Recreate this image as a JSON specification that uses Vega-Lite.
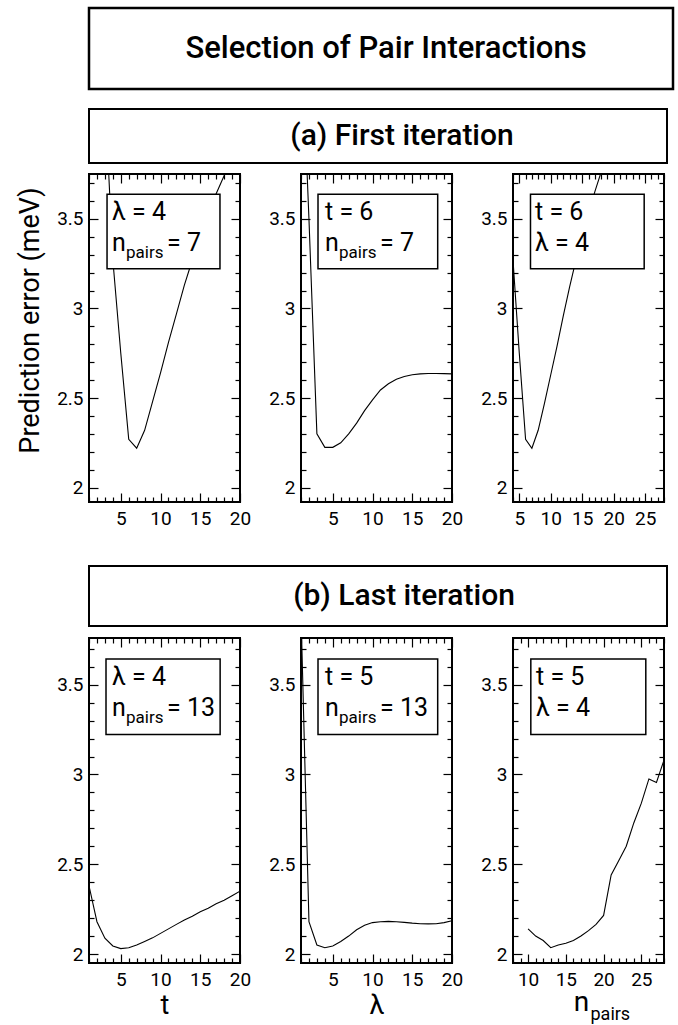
{
  "$schema": "https://vega.github.io/schema/vega-lite/v6.json",
  "background": "white",
  "padding": {"left": 15, "top": 6, "right": 0, "bottom": 0},
  "config": {
    "font": "Roboto",
    "view": {"stroke": "black", "strokeWidth": 2},
    "axis": {"domain": false, "grid": false, "tickColor": "black", "tickWidth": 1.2, "labelColor": "black", "labelFont": "Roboto", "labelFontSize": 19, "labelFlush": false, "labelOverlap": false, "titleColor": "black", "titleFont": "Roboto", "titleFontWeight": "normal", "titleFontSize": 27},
    "text": {"font": "Roboto", "color": "black"}
  },
  "spacing": 32,
  "vconcat": [
    {
      "spacing": 17,
      "vconcat": [
        {
          "width": 584, "height": 81,
          "view": {"stroke": "black", "strokeWidth": 2.5},
          "data": {"values": [{"label": "Selection of Pair Interactions"}]},
          "mark": {"type": "text", "fontSize": 31, "fontWeight": 500, "dx": 5, "baseline": "middle"},
          "encoding": {"text": {"field": "label"}}
        },
        {
          "spacing": 8,
          "vconcat": [
            {
              "width": 578, "height": 54,
              "view": {"stroke": "black", "strokeWidth": 2},
              "data": {"values": [{"label": "(a) First iteration"}]},
              "mark": {"type": "text", "fontSize": 30, "fontWeight": 500, "dx": 24, "baseline": "middle"},
              "encoding": {"text": {"field": "label"}}
            },
            {
              "spacing": 15,
              "hconcat": [
                {
                  "width": 151, "height": 328,
                  "layer": [
                    {
                      "data": {"values": [{"t":3,"err":4.2},{"t":4,"err":3.27},{"t":5,"err":2.75},{"t":6,"err":2.27},{"t":7,"err":2.22},{"t":8,"err":2.32},{"t":9,"err":2.48},{"t":10,"err":2.64},{"t":11,"err":2.81},{"t":12,"err":2.97},{"t":13,"err":3.13},{"t":14,"err":3.27},{"t":15,"err":3.4},{"t":16,"err":3.52},{"t":17,"err":3.64},{"t":18,"err":3.74},{"t":19,"err":3.84},{"t":20,"err":3.93}]},
                      "mark": {"type": "line", "clip": true, "color": "black", "strokeWidth": 1.1},
                      "encoding": {
                        "x": {"field": "t", "type": "quantitative", "scale": {"domain": [1, 20], "nice": false, "zero": false},
                          "axis": {"orient": "bottom", "values": [1,2,3,4,5,6,7,8,9,10,11,12,13,14,15,16,17,18,19,20], "tickSize": {"condition": {"test": "datum.value % 5 === 0", "value": -9}, "value": -5}, "labelExpr": "datum.value % 5 === 0 ? datum.label : ''", "labelPadding": 16, "title": null}},
                        "y": {"field": "err", "type": "quantitative", "scale": {"domain": [1.92, 3.75], "nice": false, "zero": false},
                          "axis": {"orient": "left", "values": [2,2.1,2.2,2.3,2.4,2.5,2.6,2.7,2.8,2.9,3,3.1,3.2,3.3,3.4,3.5,3.6,3.7], "format": ".1~f", "tickSize": {"condition": {"test": "abs(datum.value * 2 - round(datum.value * 2)) < 0.001", "value": -9}, "value": -5}, "labelExpr": "abs(datum.value * 2 - round(datum.value * 2)) < 0.001 ? datum.label : ''", "labelPadding": 15, "title": "Prediction error (meV)", "titlePadding": 12, "titleY": 146}}
                      }
                    },
                    {
                      "data": {"values": [{"box": "legend"}]},
                      "mark": {"type": "rect", "fill": "white", "stroke": "black", "strokeWidth": 1.5},
                      "encoding": {
                        "x": {"datum": 3.27, "axis": {"orient": "top", "values": [1,2,3,4,5,6,7,8,9,10,11,12,13,14,15,16,17,18,19,20], "labels": false, "tickSize": {"condition": {"test": "datum.value % 5 === 0", "value": -9}, "value": -5}, "title": null}},
                        "x2": {"datum": 17.48},
                        "y": {"datum": 3.637, "axis": {"orient": "right", "values": [2,2.1,2.2,2.3,2.4,2.5,2.6,2.7,2.8,2.9,3,3.1,3.2,3.3,3.4,3.5,3.6,3.7], "labels": false, "tickSize": {"condition": {"test": "abs(datum.value * 2 - round(datum.value * 2)) < 0.001", "value": -9}, "value": -5}, "title": null}},
                        "y2": {"datum": 3.221}
                      }
                    },
                    {"data": {"values": [{"label": "λ = 4"}]}, "mark": {"type": "text", "align": "left", "baseline": "alphabetic", "fontSize": 25}, "encoding": {"x": {"datum": 3.89, "axis": null}, "y": {"datum": 3.493, "axis": null}, "text": {"field": "label"}}},
                    {"data": {"values": [{"label": "n"}]}, "mark": {"type": "text", "align": "left", "baseline": "alphabetic", "fontSize": 25}, "encoding": {"x": {"datum": 3.89, "axis": null}, "y": {"datum": 3.32, "axis": null}, "text": {"field": "label"}}},
                    {"data": {"values": [{"label": "pairs"}]}, "mark": {"type": "text", "align": "left", "baseline": "alphabetic", "fontSize": 17, "dx": 14}, "encoding": {"x": {"datum": 3.89, "axis": null}, "y": {"datum": 3.281, "axis": null}, "text": {"field": "label"}}},
                    {"data": {"values": [{"label": "= 7"}]}, "mark": {"type": "text", "align": "left", "baseline": "alphabetic", "fontSize": 25, "dx": 55}, "encoding": {"x": {"datum": 3.89, "axis": null}, "y": {"datum": 3.32, "axis": null}, "text": {"field": "label"}}}
                  ],
                  "resolve": {"axis": {"x": "independent", "y": "independent"}}
                },
                {
                  "width": 151, "height": 328,
                  "layer": [
                    {
                      "data": {"values": [{"lambda":1,"err":4.6},{"lambda":2,"err":3.5},{"lambda":3,"err":2.3},{"lambda":4,"err":2.225},{"lambda":5,"err":2.225},{"lambda":6,"err":2.25},{"lambda":7,"err":2.3},{"lambda":8,"err":2.36},{"lambda":9,"err":2.43},{"lambda":10,"err":2.49},{"lambda":11,"err":2.545},{"lambda":12,"err":2.58},{"lambda":13,"err":2.605},{"lambda":14,"err":2.62},{"lambda":15,"err":2.63},{"lambda":16,"err":2.635},{"lambda":17,"err":2.637},{"lambda":18,"err":2.637},{"lambda":19,"err":2.636},{"lambda":20,"err":2.635}]},
                      "mark": {"type": "line", "clip": true, "color": "black", "strokeWidth": 1.1},
                      "encoding": {
                        "x": {"field": "lambda", "type": "quantitative", "scale": {"domain": [1, 20], "nice": false, "zero": false},
                          "axis": {"orient": "bottom", "values": [1,2,3,4,5,6,7,8,9,10,11,12,13,14,15,16,17,18,19,20], "tickSize": {"condition": {"test": "datum.value % 5 === 0", "value": -9}, "value": -5}, "labelExpr": "datum.value % 5 === 0 ? datum.label : ''", "labelPadding": 16, "title": null}},
                        "y": {"field": "err", "type": "quantitative", "scale": {"domain": [1.92, 3.75], "nice": false, "zero": false},
                          "axis": {"orient": "left", "values": [2,2.1,2.2,2.3,2.4,2.5,2.6,2.7,2.8,2.9,3,3.1,3.2,3.3,3.4,3.5,3.6,3.7], "format": ".1~f", "tickSize": {"condition": {"test": "abs(datum.value * 2 - round(datum.value * 2)) < 0.001", "value": -9}, "value": -5}, "labelExpr": "abs(datum.value * 2 - round(datum.value * 2)) < 0.001 ? datum.label : ''", "labelPadding": 15, "title": null}}
                      }
                    },
                    {
                      "data": {"values": [{"box": "legend"}]},
                      "mark": {"type": "rect", "fill": "white", "stroke": "black", "strokeWidth": 1.5},
                      "encoding": {
                        "x": {"datum": 3.14, "axis": {"orient": "top", "values": [1,2,3,4,5,6,7,8,9,10,11,12,13,14,15,16,17,18,19,20], "labels": false, "tickSize": {"condition": {"test": "datum.value % 5 === 0", "value": -9}, "value": -5}, "title": null}},
                        "x2": {"datum": 18.2},
                        "y": {"datum": 3.637, "axis": {"orient": "right", "values": [2,2.1,2.2,2.3,2.4,2.5,2.6,2.7,2.8,2.9,3,3.1,3.2,3.3,3.4,3.5,3.6,3.7], "labels": false, "tickSize": {"condition": {"test": "abs(datum.value * 2 - round(datum.value * 2)) < 0.001", "value": -9}, "value": -5}, "title": null}},
                        "y2": {"datum": 3.221}
                      }
                    },
                    {"data": {"values": [{"label": "t = 6"}]}, "mark": {"type": "text", "align": "left", "baseline": "alphabetic", "fontSize": 25}, "encoding": {"x": {"datum": 4.02, "axis": null}, "y": {"datum": 3.493, "axis": null}, "text": {"field": "label"}}},
                    {"data": {"values": [{"label": "n"}]}, "mark": {"type": "text", "align": "left", "baseline": "alphabetic", "fontSize": 25}, "encoding": {"x": {"datum": 4.02, "axis": null}, "y": {"datum": 3.32, "axis": null}, "text": {"field": "label"}}},
                    {"data": {"values": [{"label": "pairs"}]}, "mark": {"type": "text", "align": "left", "baseline": "alphabetic", "fontSize": 17, "dx": 14}, "encoding": {"x": {"datum": 4.02, "axis": null}, "y": {"datum": 3.281, "axis": null}, "text": {"field": "label"}}},
                    {"data": {"values": [{"label": "= 7"}]}, "mark": {"type": "text", "align": "left", "baseline": "alphabetic", "fontSize": 25, "dx": 55}, "encoding": {"x": {"datum": 4.02, "axis": null}, "y": {"datum": 3.32, "axis": null}, "text": {"field": "label"}}}
                  ],
                  "resolve": {"axis": {"x": "independent", "y": "independent"}}
                },
                {
                  "width": 151, "height": 328,
                  "layer": [
                    {
                      "data": {"values": [{"npairs":4,"err":3.27},{"npairs":5,"err":2.75},{"npairs":6,"err":2.27},{"npairs":7,"err":2.22},{"npairs":8,"err":2.32},{"npairs":9,"err":2.47},{"npairs":10,"err":2.63},{"npairs":11,"err":2.79},{"npairs":12,"err":2.96},{"npairs":13,"err":3.12},{"npairs":14,"err":3.27},{"npairs":15,"err":3.4},{"npairs":16,"err":3.53},{"npairs":17,"err":3.65},{"npairs":18,"err":3.76},{"npairs":19,"err":3.86}]},
                      "mark": {"type": "line", "clip": true, "color": "black", "strokeWidth": 1.1},
                      "encoding": {
                        "x": {"field": "npairs", "type": "quantitative", "scale": {"domain": [4, 28], "nice": false, "zero": false},
                          "axis": {"orient": "bottom", "values": [4,5,6,7,8,9,10,11,12,13,14,15,16,17,18,19,20,21,22,23,24,25,26,27,28], "tickSize": {"condition": {"test": "datum.value % 5 === 0", "value": -9}, "value": -5}, "labelExpr": "datum.value % 5 === 0 ? datum.label : ''", "labelPadding": 16, "title": null}},
                        "y": {"field": "err", "type": "quantitative", "scale": {"domain": [1.92, 3.75], "nice": false, "zero": false},
                          "axis": {"orient": "left", "values": [2,2.1,2.2,2.3,2.4,2.5,2.6,2.7,2.8,2.9,3,3.1,3.2,3.3,3.4,3.5,3.6,3.7], "format": ".1~f", "tickSize": {"condition": {"test": "abs(datum.value * 2 - round(datum.value * 2)) < 0.001", "value": -9}, "value": -5}, "labelExpr": "abs(datum.value * 2 - round(datum.value * 2)) < 0.001 ? datum.label : ''", "labelPadding": 15, "title": null}}
                      }
                    },
                    {
                      "data": {"values": [{"box": "legend"}]},
                      "mark": {"type": "rect", "fill": "white", "stroke": "black", "strokeWidth": 1.5},
                      "encoding": {
                        "x": {"datum": 6.78, "axis": {"orient": "top", "values": [4,5,6,7,8,9,10,11,12,13,14,15,16,17,18,19,20,21,22,23,24,25,26,27,28], "labels": false, "tickSize": {"condition": {"test": "datum.value % 5 === 0", "value": -9}, "value": -5}, "title": null}},
                        "x2": {"datum": 24.85},
                        "y": {"datum": 3.637, "axis": {"orient": "right", "values": [2,2.1,2.2,2.3,2.4,2.5,2.6,2.7,2.8,2.9,3,3.1,3.2,3.3,3.4,3.5,3.6,3.7], "labels": false, "tickSize": {"condition": {"test": "abs(datum.value * 2 - round(datum.value * 2)) < 0.001", "value": -9}, "value": -5}, "title": null}},
                        "y2": {"datum": 3.221}
                      }
                    },
                    {"data": {"values": [{"label": "t = 6"}]}, "mark": {"type": "text", "align": "left", "baseline": "alphabetic", "fontSize": 25}, "encoding": {"x": {"datum": 7.5, "axis": null}, "y": {"datum": 3.493, "axis": null}, "text": {"field": "label"}}},
                    {"data": {"values": [{"label": "λ = 4"}]}, "mark": {"type": "text", "align": "left", "baseline": "alphabetic", "fontSize": 25}, "encoding": {"x": {"datum": 7.5, "axis": null}, "y": {"datum": 3.32, "axis": null}, "text": {"field": "label"}}}
                  ],
                  "resolve": {"axis": {"x": "independent", "y": "independent"}}
                }
              ]
            }
          ]
        }
      ]
    },
    {
      "spacing": 9,
      "vconcat": [
        {
          "width": 578, "height": 60,
          "view": {"stroke": "black", "strokeWidth": 2},
          "data": {"values": [{"label": "(b) Last iteration"}]},
          "mark": {"type": "text", "fontSize": 30, "fontWeight": 500, "dx": 26, "baseline": "middle"},
          "encoding": {"text": {"field": "label"}}
        },
        {
          "spacing": 15,
          "hconcat": [
            {
              "width": 151, "height": 325,
              "layer": [
                {
                  "data": {"values": [{"t":1,"err":2.38},{"t":2,"err":2.18},{"t":3,"err":2.088},{"t":4,"err":2.045},{"t":5,"err":2.03},{"t":6,"err":2.035},{"t":7,"err":2.05},{"t":8,"err":2.07},{"t":9,"err":2.09},{"t":10,"err":2.115},{"t":11,"err":2.14},{"t":12,"err":2.165},{"t":13,"err":2.19},{"t":14,"err":2.21},{"t":15,"err":2.235},{"t":16,"err":2.255},{"t":17,"err":2.28},{"t":18,"err":2.3},{"t":19,"err":2.325},{"t":20,"err":2.35}]},
                  "mark": {"type": "line", "clip": true, "color": "black", "strokeWidth": 1.1},
                  "encoding": {
                    "x": {"field": "t", "type": "quantitative", "scale": {"domain": [1, 20], "nice": false, "zero": false},
                      "axis": {"orient": "bottom", "values": [1,2,3,4,5,6,7,8,9,10,11,12,13,14,15,16,17,18,19,20], "tickSize": {"condition": {"test": "datum.value % 5 === 0", "value": -9}, "value": -5}, "labelExpr": "datum.value % 5 === 0 ? datum.label : ''", "labelPadding": 16, "title": "t", "titleFontSize": 27, "titlePadding": -1}},
                    "y": {"field": "err", "type": "quantitative", "scale": {"domain": [1.95, 3.76], "nice": false, "zero": false},
                      "axis": {"orient": "left", "values": [2,2.1,2.2,2.3,2.4,2.5,2.6,2.7,2.8,2.9,3,3.1,3.2,3.3,3.4,3.5,3.6,3.7], "format": ".1~f", "tickSize": {"condition": {"test": "abs(datum.value * 2 - round(datum.value * 2)) < 0.001", "value": -9}, "value": -5}, "labelExpr": "abs(datum.value * 2 - round(datum.value * 2)) < 0.001 ? datum.label : ''", "labelPadding": 15, "title": null}}
                  }
                },
                {
                  "data": {"values": [{"box": "legend"}]},
                  "mark": {"type": "rect", "fill": "white", "stroke": "black", "strokeWidth": 1.5},
                  "encoding": {
                    "x": {"datum": 3.14, "axis": {"orient": "top", "values": [1,2,3,4,5,6,7,8,9,10,11,12,13,14,15,16,17,18,19,20], "labels": false, "tickSize": {"condition": {"test": "datum.value % 5 === 0", "value": -9}, "value": -5}, "title": null}},
                    "x2": {"datum": 17.5},
                    "y": {"datum": 3.643, "axis": {"orient": "right", "values": [2,2.1,2.2,2.3,2.4,2.5,2.6,2.7,2.8,2.9,3,3.1,3.2,3.3,3.4,3.5,3.6,3.7], "labels": false, "tickSize": {"condition": {"test": "abs(datum.value * 2 - round(datum.value * 2)) < 0.001", "value": -9}, "value": -5}, "title": null}},
                    "y2": {"datum": 3.223}
                  }
                },
                {"data": {"values": [{"label": "λ = 4"}]}, "mark": {"type": "text", "align": "left", "baseline": "alphabetic", "fontSize": 25}, "encoding": {"x": {"datum": 3.89, "axis": null}, "y": {"datum": 3.498, "axis": null}, "text": {"field": "label"}}},
                {"data": {"values": [{"label": "n"}]}, "mark": {"type": "text", "align": "left", "baseline": "alphabetic", "fontSize": 25}, "encoding": {"x": {"datum": 3.89, "axis": null}, "y": {"datum": 3.326, "axis": null}, "text": {"field": "label"}}},
                {"data": {"values": [{"label": "pairs"}]}, "mark": {"type": "text", "align": "left", "baseline": "alphabetic", "fontSize": 17, "dx": 14}, "encoding": {"x": {"datum": 3.89, "axis": null}, "y": {"datum": 3.287, "axis": null}, "text": {"field": "label"}}},
                {"data": {"values": [{"label": "= 13"}]}, "mark": {"type": "text", "align": "left", "baseline": "alphabetic", "fontSize": 25, "dx": 55}, "encoding": {"x": {"datum": 3.89, "axis": null}, "y": {"datum": 3.326, "axis": null}, "text": {"field": "label"}}}
              ],
              "resolve": {"axis": {"x": "independent", "y": "independent"}}
            },
            {
              "width": 151, "height": 325,
              "layer": [
                {
                  "data": {"values": [{"lambda":1,"err":3.9},{"lambda":2,"err":2.18},{"lambda":3,"err":2.05},{"lambda":4,"err":2.035},{"lambda":5,"err":2.045},{"lambda":6,"err":2.07},{"lambda":7,"err":2.1},{"lambda":8,"err":2.135},{"lambda":9,"err":2.16},{"lambda":10,"err":2.175},{"lambda":11,"err":2.18},{"lambda":12,"err":2.182},{"lambda":13,"err":2.18},{"lambda":14,"err":2.176},{"lambda":15,"err":2.172},{"lambda":16,"err":2.169},{"lambda":17,"err":2.168},{"lambda":18,"err":2.169},{"lambda":19,"err":2.175},{"lambda":20,"err":2.185}]},
                  "mark": {"type": "line", "clip": true, "color": "black", "strokeWidth": 1.1},
                  "encoding": {
                    "x": {"field": "lambda", "type": "quantitative", "scale": {"domain": [1, 20], "nice": false, "zero": false},
                      "axis": {"orient": "bottom", "values": [1,2,3,4,5,6,7,8,9,10,11,12,13,14,15,16,17,18,19,20], "tickSize": {"condition": {"test": "datum.value % 5 === 0", "value": -9}, "value": -5}, "labelExpr": "datum.value % 5 === 0 ? datum.label : ''", "labelPadding": 16, "title": "λ", "titleFontSize": 27, "titlePadding": -1}},
                    "y": {"field": "err", "type": "quantitative", "scale": {"domain": [1.95, 3.76], "nice": false, "zero": false},
                      "axis": {"orient": "left", "values": [2,2.1,2.2,2.3,2.4,2.5,2.6,2.7,2.8,2.9,3,3.1,3.2,3.3,3.4,3.5,3.6,3.7], "format": ".1~f", "tickSize": {"condition": {"test": "abs(datum.value * 2 - round(datum.value * 2)) < 0.001", "value": -9}, "value": -5}, "labelExpr": "abs(datum.value * 2 - round(datum.value * 2)) < 0.001 ? datum.label : ''", "labelPadding": 15, "title": null}}
                  }
                },
                {
                  "data": {"values": [{"box": "legend"}]},
                  "mark": {"type": "rect", "fill": "white", "stroke": "black", "strokeWidth": 1.5},
                  "encoding": {
                    "x": {"datum": 3.14, "axis": {"orient": "top", "values": [1,2,3,4,5,6,7,8,9,10,11,12,13,14,15,16,17,18,19,20], "labels": false, "tickSize": {"condition": {"test": "datum.value % 5 === 0", "value": -9}, "value": -5}, "title": null}},
                    "x2": {"datum": 18.2},
                    "y": {"datum": 3.643, "axis": {"orient": "right", "values": [2,2.1,2.2,2.3,2.4,2.5,2.6,2.7,2.8,2.9,3,3.1,3.2,3.3,3.4,3.5,3.6,3.7], "labels": false, "tickSize": {"condition": {"test": "abs(datum.value * 2 - round(datum.value * 2)) < 0.001", "value": -9}, "value": -5}, "title": null}},
                    "y2": {"datum": 3.223}
                  }
                },
                {"data": {"values": [{"label": "t = 5"}]}, "mark": {"type": "text", "align": "left", "baseline": "alphabetic", "fontSize": 25}, "encoding": {"x": {"datum": 4.02, "axis": null}, "y": {"datum": 3.498, "axis": null}, "text": {"field": "label"}}},
                {"data": {"values": [{"label": "n"}]}, "mark": {"type": "text", "align": "left", "baseline": "alphabetic", "fontSize": 25}, "encoding": {"x": {"datum": 4.02, "axis": null}, "y": {"datum": 3.326, "axis": null}, "text": {"field": "label"}}},
                {"data": {"values": [{"label": "pairs"}]}, "mark": {"type": "text", "align": "left", "baseline": "alphabetic", "fontSize": 17, "dx": 14}, "encoding": {"x": {"datum": 4.02, "axis": null}, "y": {"datum": 3.287, "axis": null}, "text": {"field": "label"}}},
                {"data": {"values": [{"label": "= 13"}]}, "mark": {"type": "text", "align": "left", "baseline": "alphabetic", "fontSize": 25, "dx": 55}, "encoding": {"x": {"datum": 4.02, "axis": null}, "y": {"datum": 3.326, "axis": null}, "text": {"field": "label"}}}
              ],
              "resolve": {"axis": {"x": "independent", "y": "independent"}}
            },
            {
              "width": 151, "height": 325,
              "layer": [
                {
                  "data": {"values": [{"npairs":10,"err":2.14},{"npairs":11,"err":2.1},{"npairs":12,"err":2.075},{"npairs":13,"err":2.035},{"npairs":14,"err":2.05},{"npairs":15,"err":2.06},{"npairs":16,"err":2.075},{"npairs":17,"err":2.1},{"npairs":18,"err":2.13},{"npairs":19,"err":2.165},{"npairs":20,"err":2.215},{"npairs":21,"err":2.44},{"npairs":22,"err":2.52},{"npairs":23,"err":2.6},{"npairs":24,"err":2.73},{"npairs":25,"err":2.84},{"npairs":26,"err":2.975},{"npairs":27,"err":2.955},{"npairs":28,"err":3.08}]},
                  "mark": {"type": "line", "clip": true, "color": "black", "strokeWidth": 1.1},
                  "encoding": {
                    "x": {"field": "npairs", "type": "quantitative", "scale": {"domain": [8, 28], "nice": false, "zero": false},
                      "axis": {"orient": "bottom", "values": [8,9,10,11,12,13,14,15,16,17,18,19,20,21,22,23,24,25,26,27,28], "tickSize": {"condition": {"test": "datum.value % 5 === 0", "value": -9}, "value": -5}, "labelExpr": "datum.value % 5 === 0 ? datum.label : ''", "labelPadding": 16, "title": null}},
                    "y": {"field": "err", "type": "quantitative", "scale": {"domain": [1.95, 3.76], "nice": false, "zero": false},
                      "axis": {"orient": "left", "values": [2,2.1,2.2,2.3,2.4,2.5,2.6,2.7,2.8,2.9,3,3.1,3.2,3.3,3.4,3.5,3.6,3.7], "format": ".1~f", "tickSize": {"condition": {"test": "abs(datum.value * 2 - round(datum.value * 2)) < 0.001", "value": -9}, "value": -5}, "labelExpr": "abs(datum.value * 2 - round(datum.value * 2)) < 0.001 ? datum.label : ''", "labelPadding": 15, "title": null}}
                  }
                },
                {
                  "data": {"values": [{"box": "legend"}]},
                  "mark": {"type": "rect", "fill": "white", "stroke": "black", "strokeWidth": 1.5},
                  "encoding": {
                    "x": {"datum": 10.36, "axis": {"orient": "top", "values": [8,9,10,11,12,13,14,15,16,17,18,19,20,21,22,23,24,25,26,27,28], "labels": false, "tickSize": {"condition": {"test": "datum.value % 5 === 0", "value": -9}, "value": -5}, "title": null}},
                    "x2": {"datum": 25.59},
                    "y": {"datum": 3.643, "axis": {"orient": "right", "values": [2,2.1,2.2,2.3,2.4,2.5,2.6,2.7,2.8,2.9,3,3.1,3.2,3.3,3.4,3.5,3.6,3.7], "labels": false, "tickSize": {"condition": {"test": "abs(datum.value * 2 - round(datum.value * 2)) < 0.001", "value": -9}, "value": -5}, "title": null}},
                    "y2": {"datum": 3.223}
                  }
                },
                {"data": {"values": [{"label": "t = 5"}]}, "mark": {"type": "text", "align": "left", "baseline": "alphabetic", "fontSize": 25}, "encoding": {"x": {"datum": 11.05, "axis": null}, "y": {"datum": 3.498, "axis": null}, "text": {"field": "label"}}},
                {"data": {"values": [{"label": "λ = 4"}]}, "mark": {"type": "text", "align": "left", "baseline": "alphabetic", "fontSize": 25}, "encoding": {"x": {"datum": 11.05, "axis": null}, "y": {"datum": 3.326, "axis": null}, "text": {"field": "label"}}},
                {"data": {"values": [{"label": "n"}]}, "mark": {"type": "text", "align": "center", "baseline": "alphabetic", "fontSize": 28}, "encoding": {"x": {"datum": 17.07, "axis": null}, "y": {"datum": 1.68, "axis": null}, "text": {"field": "label"}}},
                {"data": {"values": [{"label": "pairs"}]}, "mark": {"type": "text", "align": "left", "baseline": "alphabetic", "fontSize": 18, "dx": 9}, "encoding": {"x": {"datum": 17.07, "axis": null}, "y": {"datum": 1.63, "axis": null}, "text": {"field": "label"}}}
              ],
              "resolve": {"axis": {"x": "independent", "y": "independent"}}
            }
          ]
        }
      ]
    }
  ]
}
